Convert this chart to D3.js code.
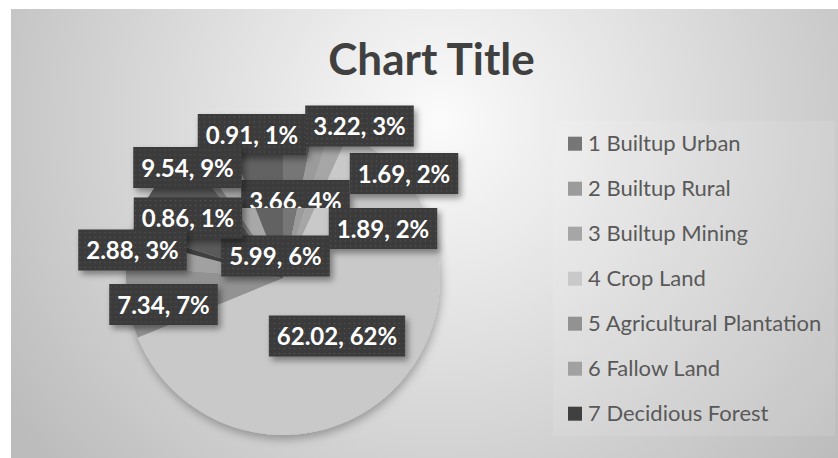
<!DOCTYPE html>
<html>
<head>
<meta charset="utf-8">
<script src="https://cdn.jsdelivr.net/npm/d3@7"></script>
<style>
  body { margin: 0; background: #fff; }
  svg { display: block; }
</style>
</head>
<body>
<div id="chart"></div>
<script>
// data
const categories = ["1 Builtup Urban", "2 Builtup Rural", "3 Builtup Mining", "4 Crop Land",
  "5 Agricultural Plantation", "6 Fallow Land", "7 Decidious Forest", "8", "9", "10", "11"];
const values = [3.22, 1.69, 1.89, 62.02, 7.34, 2.88, 0.86, 9.54, 0.91, 3.66, 5.99];
const legendCount = 7; // only the first 7 entries fit in the legend

const colors = ["#767676", "#9b9b9b", "#a6a6a6", "#c9c9c9", "#929292", "#a1a1a1", "#404040",
  "#5a5a5a", "#7c7c7c", "#a8a8a8", "#626262"];

// label box centres, placed by hand (as they were dragged in Excel)
const labelPos = [[359.5, 126], [404, 173.5], [383, 228.5], [337, 336], [163.5, 304.5],
  [132.5, 250], [188, 218], [187.5, 167.5], [252, 134.5], [295.5, 200.5], [275.5, 256]];
const labelCut = { 9: 28 }; // 3.66 label is cut off at the bottom

const width = 838, height = 458;
const cx = 283, cy = 278, radius = 157;

// Excel rounds percentages so they add up to 100 (largest remainder)
function roundPercents(vals) {
  const total = d3.sum(vals);
  const raw = vals.map(v => v / total * 100);
  const out = raw.map(Math.floor);
  let left = 100 - d3.sum(out);
  const order = d3.range(raw.length).sort((a, b) => (raw[b] - out[b]) - (raw[a] - out[a]));
  for (let k = 0; k < left; k++) out[order[k]] += 1;
  return out;
}
const pcts = roundPercents(values);

const svg = d3.select("#chart").append("svg")
  .attr("width", width)
  .attr("height", height);

const defs = svg.append("defs");

const bg = defs.append("radialGradient")
  .attr("id", "bg")
  .attr("gradientUnits", "userSpaceOnUse")
  .attr("cx", 440).attr("cy", 120).attr("r", 520);
bg.append("stop").attr("offset", 0).attr("stop-color", "#fbfbfb");
bg.append("stop").attr("offset", 1).attr("stop-color", "#bcbcbc");

const dots = defs.append("pattern")
  .attr("id", "dots")
  .attr("patternUnits", "userSpaceOnUse")
  .attr("width", 5).attr("height", 5);
dots.append("rect").attr("width", 5).attr("height", 5).attr("fill", "#3a3a3a");
dots.append("circle").attr("cx", 2.5).attr("cy", 2.5).attr("r", 0.8).attr("fill", "#535353");

const pieShadow = defs.append("filter").attr("id", "pieShadow")
  .attr("x", "-20%").attr("y", "-20%").attr("width", "140%").attr("height", "140%");
pieShadow.append("feDropShadow")
  .attr("dx", 1).attr("dy", 4).attr("stdDeviation", 5)
  .attr("flood-color", "#000").attr("flood-opacity", 0.3);

const boxShadow = defs.append("filter").attr("id", "boxShadow")
  .attr("x", "-20%").attr("y", "-30%").attr("width", "150%").attr("height", "170%");
boxShadow.append("feDropShadow")
  .attr("dx", 3).attr("dy", 4).attr("stdDeviation", 3)
  .attr("flood-color", "#000").attr("flood-opacity", 0.4);

// chart area
svg.append("rect")
  .attr("x", 11).attr("y", 9)
  .attr("width", width).attr("height", height)
  .attr("fill", "url(#bg)");

// legend box (slightly lighter)
svg.append("rect")
  .attr("x", 553).attr("y", 121)
  .attr("width", 282).attr("height", 315)
  .attr("fill", "#fff").attr("opacity", 0.1);

// title
svg.append("text")
  .attr("x", 431.5).attr("y", 75)
  .attr("text-anchor", "middle")
  .attr("font-family", "Lato, 'Open Sans', sans-serif")
  .attr("font-weight", "bold")
  .attr("font-size", "44px")
  .attr("fill", "#404040")
  .text("Chart Title");

// pie
const pie = d3.pie().sort(null).value(d => d);
const arcs = pie(values);
const arc = d3.arc().innerRadius(0).outerRadius(radius);

svg.append("g")
  .attr("transform", `translate(${cx},${cy})`)
  .attr("filter", "url(#pieShadow)")
  .selectAll("path")
  .data(arcs)
  .enter()
  .append("path")
    .attr("d", arc)
    .attr("fill", (d, i) => colors[i]);

// data labels, first series point ends up on top
const labelG = svg.append("g");
const order = d3.range(values.length).reverse();

order.forEach(i => {
  const txt = values[i].toFixed(2) + ", " + pcts[i] + "%";
  const g = labelG.append("g")
    .attr("transform", `translate(${labelPos[i][0]},${labelPos[i][1]})`);

  const t = g.append("text")
    .attr("text-anchor", "middle")
    .attr("y", 9)
    .attr("font-family", "Lato, 'Open Sans', sans-serif")
    .attr("font-weight", "bold")
    .attr("font-size", "24px")
    .attr("fill", "#fff")
    .text(txt);

  const w = t.node().getComputedTextLength() + 16;
  const h = 41;
  const visible = labelCut[i] || h;

  defs.append("clipPath").attr("id", "cut" + i)
    .append("rect")
    .attr("x", -w / 2 - 10).attr("y", -h / 2 - 10)
    .attr("width", w + 20).attr("height", visible + 10 + (labelCut[i] ? 0 : 20));

  g.attr("clip-path", "url(#cut" + i + ")");
  g.insert("rect", "text")
    .attr("x", -w / 2).attr("y", -h / 2)
    .attr("width", w).attr("height", visible)
    .attr("fill", "url(#dots)")
    .attr("filter", "url(#boxShadow)");
});

// legend
const legend = svg.append("g")
  .selectAll("g")
  .data(categories.slice(0, legendCount))
  .enter()
  .append("g")
    .attr("transform", (d, i) => `translate(568,${143.7 + i * 45})`);

legend.append("rect")
  .attr("x", 0).attr("y", -7)
  .attr("width", 14).attr("height", 14)
  .attr("fill", (d, i) => colors[i]);

legend.append("text")
  .attr("x", 20).attr("y", 7.5)
  .attr("font-family", "Lato, 'Open Sans', sans-serif")
  .attr("font-size", "22px")
  .attr("fill", "#595959")
  .text(d => d);
</script>
</body>
</html>
